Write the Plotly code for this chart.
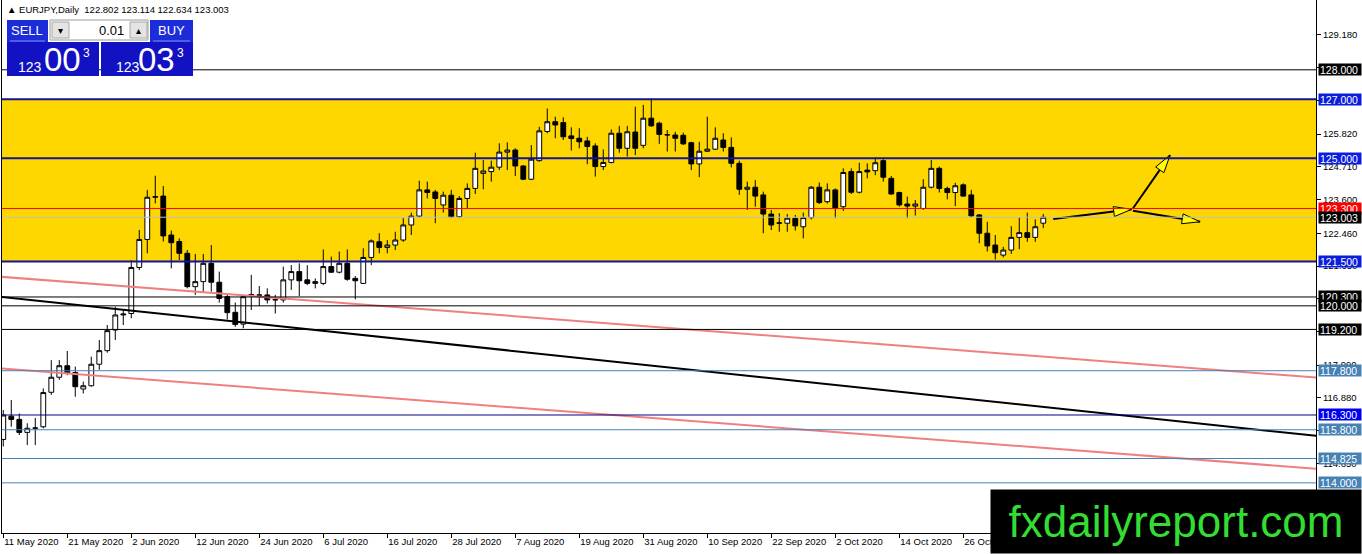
import math
import pandas as pd
import plotly.graph_objects as go

# ---------------- data ----------------
opens = [115.47, 116.26, 116.15, 115.71, 115.85, 115.90, 117.07, 117.58, 117.97, 117.74,
         117.18, 117.29, 118.02, 118.48, 119.18, 119.69, 119.74, 121.30, 122.25, 123.68,
         123.72, 122.40, 122.18, 121.78, 120.65, 120.82, 121.44, 120.80, 120.31, 119.78,
         119.38, 120.37, 120.37, 120.37, 120.20, 120.20, 120.88, 121.16, 120.88, 120.76,
         120.76, 121.33, 121.14, 121.44, 120.93, 120.76, 121.64, 122.17, 121.98, 122.06,
         122.23, 122.74, 123.04, 123.93, 123.86, 123.42, 123.75, 123.02, 123.64, 123.98,
         124.49, 124.55, 124.70, 125.21, 125.28, 124.74, 124.29, 124.92, 125.91, 126.24,
         126.21, 125.76, 125.68, 125.59, 125.42, 124.72, 124.86, 125.85, 125.34, 125.89,
         125.44, 126.36, 126.19, 125.79, 125.79, 125.78, 125.53, 124.81, 125.24, 125.31,
         125.62, 125.37, 124.83, 123.95, 124.02, 123.76, 123.11, 122.80, 122.80, 122.97,
         122.68, 122.99, 124.02, 123.53, 123.93, 123.36, 124.55, 123.85, 124.60, 124.58,
         124.92, 124.32, 123.84, 123.45, 123.38, 123.30, 124.02, 124.66, 123.98, 123.84,
         124.10, 123.76, 123.08, 122.46, 122.06, 121.72, 121.89, 122.32, 122.48, 122.32,
         122.802]
highs = [116.47, 116.81, 116.35, 116.02, 116.20, 117.20, 118.16, 118.16, 118.47, 117.94,
         117.43, 118.28, 118.84, 119.35, 119.97, 119.89, 121.55, 122.57, 123.93, 124.41,
         124.06, 122.55, 122.29, 121.89, 121.76, 121.76, 122.06, 121.16, 120.42, 120.11,
         120.37, 121.05, 120.67, 120.59, 120.37, 121.33, 121.38, 121.44, 121.38, 120.93,
         121.91, 121.67, 121.84, 121.91, 121.01, 121.95, 122.25, 122.46, 122.23, 122.51,
         122.97, 123.16, 124.24, 124.21, 123.93, 123.87, 123.93, 123.72, 124.15, 125.19,
         124.94, 124.92, 125.51, 125.54, 125.34, 124.77, 125.45, 126.07, 126.69, 126.41,
         126.39, 126.05, 126.02, 125.73, 125.51, 125.30, 125.98, 126.10, 126.10, 126.75,
         126.81, 127.03, 126.24, 125.96, 125.90, 125.87, 125.56, 125.56, 126.41, 126.05,
         125.85, 125.71, 124.92, 124.21, 124.26, 123.87, 123.25, 123.14, 123.11, 123.08,
         123.16, 124.06, 124.18, 124.15, 123.98, 124.66, 124.66, 124.85, 124.83, 125.03,
         124.97, 124.40, 123.87, 123.70, 123.59, 124.29, 124.94, 124.72, 124.04, 124.17,
         124.15, 123.93, 123.11, 122.85, 122.40, 122.00, 122.70, 123.00, 123.16, 122.93,
         123.114]
lows = [115.23, 115.90, 115.62, 115.28, 115.28, 115.85, 116.98, 117.49, 117.65, 116.92,
        117.03, 117.26, 117.83, 118.41, 118.84, 119.35, 119.58, 121.21, 121.78, 123.47,
        122.18, 121.27, 121.55, 120.59, 120.37, 120.48, 120.48, 120.11, 119.54, 119.29,
        119.24, 119.86, 119.99, 120.08, 119.74, 120.11, 120.54, 120.33, 120.70, 120.59,
        120.70, 121.12, 121.10, 120.85, 120.22, 120.74, 121.38, 121.78, 121.78, 121.89,
        122.17, 122.40, 122.99, 123.64, 122.80, 123.16, 122.97, 122.97, 123.30, 123.79,
        123.95, 124.21, 124.60, 124.60, 124.40, 124.26, 124.26, 124.89, 125.85, 125.68,
        125.62, 125.26, 125.34, 124.80, 124.38, 124.60, 124.83, 125.19, 125.06, 125.11,
        125.34, 126.07, 125.49, 125.23, 125.23, 125.45, 124.60, 124.36, 125.22, 125.28,
        125.23, 124.69, 123.76, 123.25, 123.36, 122.46, 122.57, 122.51, 122.51, 122.55,
        122.29, 122.93, 123.45, 123.47, 122.97, 123.22, 123.79, 123.81, 124.32, 124.43,
        124.21, 123.76, 123.36, 122.97, 123.06, 123.25, 123.98, 123.84, 123.61, 123.38,
        123.70, 123.00, 122.12, 121.84, 121.57, 121.64, 121.76, 121.92, 122.17, 122.17,
        122.634]
closes = [116.30, 116.15, 115.71, 115.85, 115.86, 117.06, 117.58, 117.97, 117.71, 117.26,
          117.29, 118.02, 118.48, 119.16, 119.69, 119.72, 121.30, 122.25, 123.68, 123.70,
          122.37, 122.14, 121.78, 120.65, 120.82, 121.44, 120.80, 120.25, 119.77, 119.37,
          120.31, 120.38, 120.36, 120.20, 120.21, 120.88, 121.16, 120.85, 120.76, 120.82,
          121.33, 121.14, 121.44, 120.90, 120.85, 121.64, 122.20, 121.98, 122.06, 122.23,
          122.74, 123.04, 123.93, 123.84, 123.64, 123.75, 123.02, 123.64, 123.98, 124.66,
          124.57, 124.70, 125.21, 125.28, 124.74, 124.29, 124.97, 125.93, 126.24, 126.13,
          125.73, 125.67, 125.56, 125.40, 124.72, 124.86, 125.85, 125.34, 125.90, 125.34,
          126.36, 126.10, 125.81, 125.80, 125.68, 125.49, 124.81, 125.24, 125.31, 125.68,
          125.37, 124.83, 123.95, 124.02, 123.72, 123.11, 122.74, 122.81, 122.97, 122.71,
          122.99, 124.02, 123.50, 123.93, 123.30, 124.52, 123.85, 124.55, 124.54, 124.85,
          124.36, 123.79, 123.42, 123.38, 123.45, 124.02, 124.66, 123.98, 123.84, 124.07,
          123.72, 123.05, 122.46, 122.03, 121.80, 121.89, 122.32, 122.48, 122.32, 122.68,
          123.003]

dates = pd.bdate_range("2020-05-11", periods=len(opens))
bar_idx = list(range(len(opens)))
tick_step = 8
x_tick_idx = bar_idx[::tick_step]
x_tick_text = [f"{d.day} {d.strftime('%b %Y')}" for d in dates[::tick_step]]

y_tick_vals = [129.18, 128.07, 126.95, 125.82, 124.71, 123.60, 122.46, 121.35,
               120.24, 119.13, 117.99, 116.88, 115.77, 114.65, 113.54, 112.43]

# horizontal levels: price, style kind
level_prices = [128.0, 127.0, 125.0, 123.3, 123.003, 121.5, 120.3, 120.0, 119.2,
                117.8, 116.3, 115.8, 114.825, 114.0]
level_kinds = ["black", "blue", "blue", "red", "bid", "blue", "black", "black", "black",
               "steel", "navy", "steel", "steel", "steel"]

zone_low, zone_high = 121.5, 127.0

# trend lines defined by two anchor points (bar index, price)
trend_x0 = [0, 0, 0]
trend_p0 = [120.978, 117.873, 120.297]
trend_x1 = [160, 160, 160]
trend_p1 = [117.655, 114.563, 115.711]
trend_kind = ["pink", "pink", "black"]

# forecast arrows: start (bar, price) -> end (bar, price)
arrow_x0 = [131.25, 141.2, 141.2]
arrow_p0 = [122.943, 123.30, 123.224]
arrow_x1 = [141.05, 145.85, 149.6]
arrow_p1 = [123.27, 125.11, 122.85]

header_text = "▲ EURJPY,Daily  122.802 123.114 122.634 123.003"

# ---------------- layout geometry ----------------
W, H = 1362, 554
ML, MR, MT, MB = 2, 46, 0, 21
PW, PH = W - ML - MR, H - MT - MB
X_RANGE = [-0.16, 164.09]
Y_RANGE = [112.30, 130.366]
SX = PW / (X_RANGE[1] - X_RANGE[0])
SY = PH / (Y_RANGE[1] - Y_RANGE[0])
FONT = "Liberation Sans"


def pxx(px):
    return (px - ML) / PW


def pxy(py):
    return 1 - (py - MT) / PH


fig = go.Figure()

fig.add_trace(go.Candlestick(
    x=bar_idx, open=opens, high=highs, low=lows, close=closes,
    increasing=dict(line=dict(color="black", width=1), fillcolor="white"),
    decreasing=dict(line=dict(color="black", width=1), fillcolor="black"),
    whiskerwidth=0, hoverinfo="skip", showlegend=False,
))

# trend lines (extended across the plot)
tcol = {"pink": "#F08080", "black": "black"}
for x0, p0, x1, p1, k in zip(trend_x0, trend_p0, trend_x1, trend_p1, trend_kind):
    slope = (p1 - p0) / (x1 - x0)
    xa, xb = X_RANGE[0] - 2, X_RANGE[1] + 2
    fig.add_trace(go.Scatter(
        x=[xa, xb], y=[p0 + slope * (xa - x0), p0 + slope * (xb - x0)],
        mode="lines", line=dict(color=tcol[k], width=2),
        hoverinfo="skip", showlegend=False))

# arrows
for x0, p0, x1, p1 in zip(arrow_x0, arrow_p0, arrow_x1, arrow_p1):
    dx, dy = (x1 - x0) * SX, (p1 - p0) * SY
    n = math.hypot(dx, dy)
    ux, uy = dx / n, dy / n
    hl, hw = 18, 5
    bx, by = -ux * hl, -uy * hl
    c1 = (x1 + (bx - uy * hw) / SX, p1 + (by + ux * hw) / SY)
    c2 = (x1 + (bx + uy * hw) / SX, p1 + (by - ux * hw) / SY)
    fig.add_trace(go.Scatter(
        x=[x0, x1], y=[p0, p1], mode="lines",
        line=dict(color="black", width=2), hoverinfo="skip", showlegend=False))
    fig.add_trace(go.Scatter(
        x=[x1, c1[0], c2[0], x1], y=[p1, c1[1], c2[1], p1], mode="lines",
        fill="toself", fillcolor="#FFFF00", line=dict(color="black", width=1),
        hoverinfo="skip", showlegend=False))

shapes = []
annotations = []

# yellow zone
shapes.append(dict(type="rect", xref="paper", yref="y", x0=0, x1=1,
                   y0=zone_low, y1=zone_high, fillcolor="#FFD700",
                   line=dict(width=0), layer="below"))

line_style = {
    "black": ("black", 1, "black"),
    "blue": ("#12129A", 2, "#0A1EDC"),
    "red": ("#FF0000", 1, "#FF0000"),
    "bid": ("#C0C0C0", 1, "black"),
    "steel": ("#4682B4", 1, "#4682B4"),
    "navy": ("#000080", 1, "#0000F0"),
}
for p, k in zip(level_prices, level_kinds):
    lc, lw, bg = line_style[k]
    shapes.append(dict(type="line", xref="paper", yref="y", x0=0, x1=1, y0=p, y1=p,
                       line=dict(color=lc, width=lw), layer="above"))
for p, k in zip(level_prices, level_kinds):
    lc, lw, bg = line_style[k]
    annotations.append(dict(
        text=f"{p:.3f}", xref="paper", yref="y", x=1, y=p, xanchor="left",
        yanchor="middle", xshift=2, showarrow=False, bgcolor=bg, width=40, height=9,
        borderpad=1, align="left", font=dict(family=FONT, size=10.5, color="white")))

# ---------------- one-click trading panel ----------------
def rect_px(x0, y0, x1, y1, fill, line_color=None, lw=0):
    shapes.append(dict(type="rect", xref="paper", yref="paper",
                       x0=pxx(x0), x1=pxx(x1), y0=pxy(y1), y1=pxy(y0),
                       fillcolor=fill, layer="above",
                       line=dict(color=line_color or fill, width=lw)))


def text_px(t, x, y, size, color="white", xanchor="center", family=FONT):
    annotations.append(dict(text=t, xref="paper", yref="paper", x=pxx(x), y=pxy(y),
                            xanchor=xanchor, yanchor="middle", showarrow=False,
                            font=dict(family=family, size=size, color=color)))


rect_px(7, 20, 48, 42, "#1C2CD8")
rect_px(150, 20, 193, 42, "#1C2CD8")
rect_px(50, 20, 148, 40, "white", "#9A9A9A", 1)
rect_px(52, 22, 69, 38, "#E4E4E4", "#A8A8A8", 1)
rect_px(130, 22, 147, 38, "#E4E4E4", "#A8A8A8", 1)
rect_px(7, 42, 99, 76, "#1212C2")
rect_px(101, 42, 193, 76, "#1212C2")
shapes.append(dict(type="line", xref="paper", yref="paper", x0=pxx(10), x1=pxx(45),
                   y0=pxy(41), y1=pxy(41), line=dict(color="#8090F0", width=1),
                   layer="above"))
shapes.append(dict(type="line", xref="paper", yref="paper", x0=pxx(153), x1=pxx(190),
                   y0=pxy(41), y1=pxy(41), line=dict(color="#8090F0", width=1),
                   layer="above"))

text_px("SELL", 27, 30, 13)
text_px("BUY", 171, 30, 13)
text_px("▾", 60.5, 30, 10, "black")
text_px("▴", 138.5, 30, 10, "black")
text_px("0.01", 126, 30, 13, "black", xanchor="right")
text_px("123", 30, 67, 14)
text_px("00", 62.5, 60, 33)
text_px("3", 86, 53, 12)
text_px("123", 127.5, 67, 14)
text_px("03", 156.5, 60, 33)
text_px("3", 180.5, 53, 12)
text_px(header_text, 5, 9, 9.5, "black", xanchor="left")

# watermark
annotations.append(dict(
    text="fxdailyreport.com", xref="paper", yref="paper", x=1, y=0,
    xanchor="right", yanchor="bottom", xshift=MR, yshift=-MB,
    width=368, height=61, borderpad=1, bgcolor="black", showarrow=False,
    align="center", valign="middle",
    font=dict(family=FONT, size=44, color="#33DD33")))

fig.update_layout(
    width=W, height=H, margin=dict(l=ML, r=MR, t=MT, b=MB, autoexpand=False),
    paper_bgcolor="white", plot_bgcolor="white",
    font=dict(family=FONT, size=9.5, color="black"),
    showlegend=False, boxgap=0.4, boxgroupgap=0,
    shapes=shapes, annotations=annotations,
    xaxis=dict(range=X_RANGE, showgrid=False, zeroline=False, showline=True,
               linecolor="black", linewidth=1, ticks="outside", ticklen=4,
               tickcolor="black", tickvals=x_tick_idx, ticktext=x_tick_text,
               ticklabelposition="outside right", rangeslider=dict(visible=False),
               tickfont=dict(family=FONT, size=9.5, color="black")),
    yaxis=dict(range=Y_RANGE, side="right", showgrid=False, zeroline=False,
               showline=True, mirror=True, linecolor="black", linewidth=1,
               ticks="outside", ticklen=4, tickcolor="black",
               tickvals=y_tick_vals, ticktext=[f"{v:.3f}" for v in y_tick_vals],
               tickfont=dict(family=FONT, size=9.5, color="black")),
)

fig.write_html(
    "out.html",
    config={"displayModeBar": False},
    post_script="document.body.style.margin='0';document.body.style.overflow='hidden';",
)
